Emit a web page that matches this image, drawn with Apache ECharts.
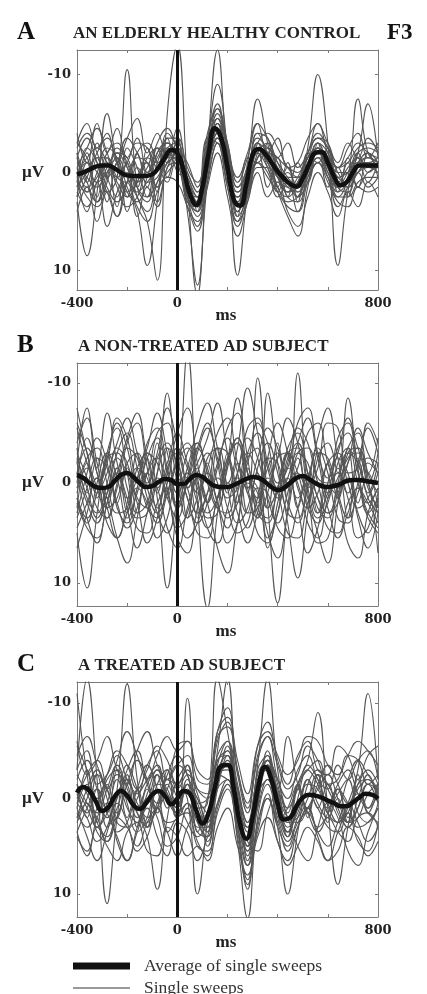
<!DOCTYPE html>
<html>
<head>
<meta charset="utf-8">
<script src="https://cdn.jsdelivr.net/npm/echarts@6/dist/echarts.min.js"></script>
<style>
html,body{margin:0;padding:0;background:#fff;}
#chart{width:427px;height:994px;}
</style>
</head>
<body>
<div id="chart"></div>
<script>
// ---- time bases (ms) ----
const sweepTimes = [-400,-360,-320,-280,-240,-200,-160,-120,-80,-40,0,40,80,120,160,200,240,280,320,360,400,440,480,520,560,600,640,680,720,760,800];
const avgTimes = [-400,-375,-350,-325,-300,-275,-250,-225,-200,-175,-150,-125,-100,-75,-50,-25,0,25,50,75,100,125,150,175,200,225,250,275,300,325,350,375,400,425,450,475,500,525,550,575,600,625,650,675,700,725,750,775,800];

// ---- tick labels ----
const xTickLabels = [-400, 0, 800];
const yTickLabels = [-10, 0, 10];

// ---- panel texts ----
const panelLetters = ['A', 'B', 'C'];
const panelTitles = ['AN ELDERLY HEALTHY CONTROL', 'A NON-TREATED AD SUBJECT', 'A TREATED AD SUBJECT'];
const legendNames = ['Average of single sweeps', 'Single sweeps'];

// ---- averages (µV) ----
const avgA = [0.2,0.0,-0.3,-0.6,-0.7,-0.7,-0.4,0.0,0.3,0.35,0.35,0.35,0.2,-0.5,-1.5,-2.3,-2.0,-0.2,2.2,3.3,1.5,-2.0,-4.5,-3.5,-0.5,2.8,3.4,1.2,-1.8,-2.4,-1.9,-1.0,-0.1,0.6,1.2,1.45,0.6,-0.8,-2.0,-2.1,-1.0,0.4,1.3,1.0,0.0,-0.7,-0.7,-0.7,-0.7];
const avgB = [-0.8,-0.5,0.0,0.4,0.5,0.4,-0.2,-0.8,-1.0,-0.6,0.0,0.4,0.3,-0.1,-0.4,-0.3,0.1,0.1,-0.4,-0.8,-0.6,-0.1,0.3,0.4,0.4,0.2,-0.1,-0.4,-0.6,-0.5,-0.1,0.4,0.7,0.5,0.0,-0.5,-0.7,-0.4,0.0,0.3,0.4,0.3,0.1,-0.2,-0.3,-0.3,-0.2,-0.1,0.0];
const avgC = [-0.6,-1.2,-0.8,0.3,1.3,0.9,-0.2,-0.8,-0.3,0.7,1.1,0.5,-0.4,-0.8,-0.3,0.6,0.0,-0.8,-0.5,1.2,2.6,1.5,-1.2,-3.4,-3.5,-1.0,2.6,4.2,2.0,-1.5,-3.3,-2.0,0.5,2.2,2.0,0.8,-0.1,-0.4,-0.3,-0.1,0.2,0.5,0.8,0.8,0.4,-0.1,-0.5,-0.4,0.0];

// ---- single sweeps (µV) ----
const sweepsA = [
[1.0,-2.5,-1.0,2.0,0.5,-10.5,1.5,3.0,-1.0,-2.5,-1.5,2.5,4.0,-1.5,-5.0,-1.0,4.0,1.0,-3.0,-2.0,0.5,2.0,1.0,-1.0,-3.0,-0.5,2.0,1.0,-1.0,-2.0,-1.0],
[-2.0,1.0,3.0,0.5,-2.5,-1.0,2.5,5.0,11.0,-6.0,-13.0,1.0,12.5,1.0,-4.0,0.0,2.5,1.5,-1.5,-2.5,0.0,1.5,2.0,0.0,-2.0,-1.5,0.5,1.0,0.0,-0.5,0.0],
[2.5,0.5,-2.0,-3.5,-1.0,2.0,3.0,0.5,-2.0,-3.0,-1.0,2.5,4.5,0.0,-5.5,-2.0,4.5,2.5,-2.0,-3.0,0.0,2.5,3.0,0.0,-3.0,-2.0,1.5,2.0,-0.5,-1.5,-0.5],
[-1.5,-3.5,-1.0,1.5,3.0,1.0,-2.0,-3.0,-1.0,1.0,-1.5,0.5,2.5,-2.5,-6.5,-3.0,1.5,0.0,-4.0,-3.5,-1.0,0.5,0.5,-2.0,-4.0,-2.5,0.0,0.0,-2.0,-2.5,-2.0],
[0.5,2.5,3.5,1.0,-2.0,-1.5,1.5,2.5,1.0,-1.0,-3.0,2.5,5.5,1.0,-3.0,1.5,5.0,3.0,-0.5,-0.5,1.5,3.0,2.5,0.5,-1.0,0.5,2.5,2.5,1.0,0.5,0.5],
[3.0,8.5,2.0,-6.0,-1.0,2.0,1.0,-1.5,-2.5,-1.0,-2.5,1.0,3.0,-2.0,-5.0,0.5,4.0,0.0,-3.0,-1.0,1.0,0.0,1.5,-1.0,-2.5,0.0,1.0,-0.5,-1.5,0.0,-1.0],
[-1.0,0.5,1.5,-0.5,-2.0,-0.5,1.0,-0.5,-2.5,-2.0,-1.0,3.0,4.0,-3.0,-9.0,-2.0,10.5,2.0,-4.0,-2.0,0.5,1.5,1.0,-1.5,-2.5,-1.5,0.5,0.0,-1.0,-1.0,-1.5],
[0.0,-1.5,-2.5,-1.0,1.0,2.5,1.0,-1.5,-1.0,-2.5,-3.0,1.5,3.5,-0.5,-3.5,0.0,2.5,0.5,-2.5,-1.0,0.5,1.0,2.0,-2.5,-10.0,-3.0,9.5,2.0,-2.0,-0.5,-0.5],
[1.5,0.0,-1.5,-1.5,0.5,1.0,-0.5,1.0,0.5,-1.5,-2.5,2.0,3.5,-2.0,-5.0,-1.5,3.0,-1.0,-7.5,-3.0,1.5,2.5,1.0,-1.5,-2.0,0.0,2.5,0.5,-7.5,-2.0,-1.0],
[-0.5,1.5,0.5,-2.0,-3.0,-0.5,2.0,1.0,-0.5,-2.0,-2.5,4.0,11.5,-2.0,-12.5,-1.0,5.0,2.0,-1.5,-2.5,-0.5,1.0,2.5,1.0,-1.5,-1.5,0.0,1.5,0.0,-1.0,-0.5],
[-2.5,-4.0,-2.0,0.5,-1.0,-3.5,-2.0,0.0,-1.5,-3.0,-2.0,0.0,2.0,-2.5,-6.0,-2.5,2.0,0.5,-3.0,-4.0,-2.5,-0.5,0.5,-1.5,-3.5,-3.0,-0.5,-1.0,-2.5,-3.0,-2.5],
[2.0,3.5,1.0,-1.0,1.5,3.5,2.5,0.0,1.5,0.0,-1.0,3.0,3.5,-0.5,-3.5,0.5,3.5,2.0,-1.0,0.5,2.0,3.5,4.0,1.0,-1.0,1.0,3.0,3.5,1.5,2.0,1.5],
[0.5,-1.0,0.0,2.0,4.5,1.0,-1.5,-1.0,1.5,-1.5,-1.5,1.0,2.5,-1.5,-4.0,-1.0,2.5,1.5,-2.0,-0.5,2.0,4.5,6.5,1.5,-2.0,-1.0,1.5,1.0,-1.0,-1.5,-1.0],
[-3.0,-1.5,1.0,0.0,-1.5,0.5,2.5,4.0,1.0,-1.0,-1.5,2.0,3.0,-1.0,-4.5,-0.5,3.5,1.0,-1.5,-2.0,-1.0,0.5,1.5,-0.5,-2.0,-0.5,1.5,0.5,-2.0,-7.0,-1.5],
[1.0,2.0,0.0,-2.5,-1.5,1.5,4.0,9.5,3.0,-4.0,-2.5,1.5,3.5,-1.0,-4.5,-1.0,3.0,1.5,-2.5,-1.5,0.5,2.0,1.5,-0.5,-2.5,-1.5,1.0,1.5,0.0,-1.0,-0.5],
[-0.5,-2.5,-4.5,-2.0,0.5,-1.0,-3.0,-2.5,-0.5,-3.5,-3.5,0.0,2.0,-3.0,-5.5,-2.5,1.5,-0.5,-3.5,-2.5,-1.5,-0.5,0.0,-2.0,-3.5,-2.5,-0.5,-1.5,-3.0,-2.0,-1.5],
[-4.0,-1.0,-5.0,-2.0,-4.5,-1.5,-3.5,0.0,-3.0,-4.5,-2.5,-1.0,1.5,-4.0,-6.5,-3.0,1.0,-1.5,-5.0,-2.0,-3.5,-0.5,-1.0,-3.5,-5.0,-2.0,-0.5,-2.5,-4.0,-1.5,-3.0],
[4.0,1.5,5.0,2.0,4.5,1.0,3.5,5.0,2.0,0.5,1.0,3.5,6.0,1.5,-2.0,2.5,6.5,3.0,0.0,2.5,1.0,4.0,5.5,2.5,0.0,2.0,4.5,2.0,3.5,1.0,2.5],
[-2.0,2.0,-1.5,3.0,-1.0,2.5,-2.0,1.5,-2.5,0.5,-3.5,2.0,2.5,-2.0,-4.0,1.0,2.0,-0.5,-2.0,1.5,-1.5,2.5,-1.0,1.0,-3.0,1.5,-0.5,2.5,-1.5,1.0,-1.0],
[1.5,-2.0,2.5,-1.5,3.5,-1.0,1.5,-2.5,2.0,-3.5,0.0,0.5,4.0,-3.5,-3.0,-2.0,4.5,-1.5,-1.0,-3.0,1.5,-0.5,3.0,-2.0,-1.0,-2.5,2.0,-1.0,1.5,-2.0,0.5],
[0.0,4.0,1.0,5.5,2.0,0.0,4.5,1.5,3.5,-0.5,-1.0,3.5,5.0,0.5,-3.0,1.5,5.5,2.5,-1.0,0.0,2.5,1.0,4.0,0.5,-1.5,0.5,3.5,1.5,0.0,1.5,0.5],
[-3.0,-5.0,-2.5,-4.0,-1.0,-3.5,-5.5,-2.0,-4.0,-1.5,-4.5,-0.5,1.0,-3.5,-7.0,-2.5,0.5,-2.0,-5.0,-3.5,-1.5,-3.0,-0.5,-2.0,-5.0,-3.0,-1.0,-3.0,-1.5,-3.5,-2.0],
[2.5,-1.0,3.0,0.0,-1.5,4.0,0.5,-1.0,3.0,-0.5,-2.0,2.5,3.5,-1.0,-4.5,0.0,4.0,1.5,-3.0,-0.5,2.0,-1.0,2.5,0.0,-2.5,0.5,1.5,-1.5,1.5,0.0,-0.5],
[-1.5,1.0,-3.0,0.5,2.5,-2.5,-0.5,2.5,-2.0,-3.0,-1.5,1.5,3.0,-2.0,-5.0,-1.0,3.5,0.0,-2.5,-2.0,0.0,2.0,0.5,-1.5,-2.5,-0.5,1.5,0.0,-1.5,-0.5,-1.0]
];
const sweepsB = [
[3.0,-1.0,-4.5,-2.0,2.5,4.0,0.5,-3.0,-2.0,1.5,3.5,-0.5,-4.0,-1.0,2.5,3.0,-1.0,-4.5,-2.5,1.5,4.0,1.0,-3.0,-3.5,0.0,3.0,2.0,-2.0,-3.5,-0.5,7.0],
[-2.0,1.5,3.0,0.0,-3.5,-2.0,1.5,2.5,-1.0,-9.0,-1.0,-13.0,2.0,12.5,3.0,-2.0,-4.0,0.5,3.5,1.0,-2.5,-3.0,0.5,2.5,1.0,-2.0,-3.0,0.0,2.5,1.5,-1.0],
[5.0,10.5,3.0,-3.0,-5.5,-1.0,3.0,2.0,-2.5,-4.0,0.0,3.5,1.5,-2.5,-3.5,0.5,4.0,2.5,-1.5,-4.0,-1.0,3.0,3.5,0.0,-3.0,-2.5,1.0,3.5,1.0,-2.0,-1.0],
[-1.0,-3.5,-1.0,2.5,1.5,-2.0,-3.0,0.5,3.0,1.0,-2.0,-3.5,0.0,3.0,1.5,-2.5,-4.0,1.0,-10.5,2.0,12.0,2.5,-3.0,-2.0,1.5,3.0,0.5,-2.5,-3.0,0.5,2.5],
[1.5,3.5,1.0,-2.5,-3.0,0.5,3.5,3.0,-1.0,-3.5,-2.0,1.5,4.0,2.0,-2.0,-4.5,-1.0,3.0,2.5,-1.5,-3.0,2.0,-11.0,1.0,5.0,8.0,2.0,-3.0,-3.5,0.0,3.0],
[-3.0,-0.5,2.5,3.5,0.0,-3.5,-2.5,1.5,4.0,1.0,-2.5,-4.0,-0.5,3.5,3.0,-1.5,-4.5,-1.0,2.0,-9.0,-2.0,4.0,9.5,3.0,-2.5,-4.0,-1.0,-8.5,-1.5,3.0,1.5],
[0.5,-2.5,-3.5,0.0,3.0,2.5,-1.5,-3.0,1.5,10.5,2.0,-3.0,-4.0,0.0,2.5,-2.0,-8.5,-2.5,2.5,3.5,0.5,-3.0,-3.5,0.5,3.5,2.0,-2.0,-3.5,0.0,3.0,4.5],
[-4.0,-6.5,-2.0,1.5,-1.0,-4.5,-7.0,-2.5,0.5,-2.0,-5.0,-2.0,1.0,-1.5,-5.0,-6.5,-2.0,0.5,-2.5,-5.5,-3.5,0.0,-1.5,-5.0,-6.0,-2.0,0.5,-2.0,-5.5,-3.0,-1.0],
[2.0,4.5,5.5,2.0,-1.0,1.5,4.5,5.0,2.0,0.5,3.0,5.5,4.0,1.0,-0.5,2.5,5.0,4.0,0.5,1.0,4.5,5.5,2.5,-0.5,1.5,4.5,5.0,2.0,0.5,3.5,5.0],
[-5.5,-2.0,0.5,-2.5,-6.0,-3.5,0.0,-1.0,-5.0,-6.0,-1.5,0.5,-3.0,-5.5,-2.5,0.5,-1.0,-5.5,-6.5,-2.0,0.5,-2.5,-5.5,-4.0,-0.5,0.0,-4.5,-6.0,-2.0,0.0,-3.0],
[1.0,-1.5,0.5,4.0,5.5,2.0,-1.5,-0.5,3.0,5.0,2.0,-1.0,0.5,4.5,6.0,2.5,-0.5,1.0,5.0,6.0,2.0,-1.5,0.0,4.0,5.5,1.5,-1.0,1.5,5.5,4.5,1.0],
[-2.0,-7.5,-1.5,-7.0,-2.0,1.5,-0.5,-4.0,-5.5,-1.5,2.0,0.0,-3.5,-6.0,-2.0,1.5,0.5,-3.0,-5.0,-1.5,1.5,-0.5,-4.0,-6.5,-2.5,1.0,-0.5,-3.5,-5.0,-1.0,1.0],
[3.5,0.5,-2.5,-1.5,2.0,4.5,2.5,-1.0,-2.5,0.5,4.5,3.0,-1.0,-3.0,0.0,3.5,2.0,-2.5,-3.5,6.5,3.0,-2.0,-4.0,-1.0,2.5,3.5,0.0,-3.0,-2.0,1.5,3.0],
[-1.0,2.0,4.0,1.0,-2.5,-1.0,2.0,6.0,3.5,-1.5,-3.0,0.5,3.0,1.0,-3.5,-3.0,1.0,4.5,1.5,-2.5,-2.0,2.0,4.0,0.5,-3.5,-1.0,3.5,4.0,0.0,-2.5,-2.0],
[-6.0,-3.0,1.0,-1.0,-4.0,-6.5,-3.0,0.0,-3.0,-7.5,-4.0,-0.5,-2.0,-4.5,-8.0,-3.0,0.0,-2.0,-6.0,-4.0,0.0,-1.5,-6.0,-7.5,-3.0,-0.5,-3.0,-6.5,-3.5,-1.0,-4.5],
[4.5,2.0,-0.5,2.5,5.5,3.0,0.5,2.0,5.5,3.5,-0.5,1.5,5.0,5.5,1.5,0.0,3.0,6.0,3.0,-0.5,1.0,5.0,5.5,2.0,0.0,2.5,5.5,3.0,0.5,2.0,4.0],
[-3.5,1.0,-2.5,2.5,-1.5,3.0,-3.0,0.5,-4.0,1.5,-2.0,3.5,-1.5,2.0,-3.5,1.0,-2.0,3.0,-1.0,2.5,-4.0,0.0,-2.5,2.0,-3.0,1.5,-1.5,3.5,-2.5,1.0,-2.0],
[2.5,-2.0,1.5,-3.0,2.0,-1.5,3.0,-2.5,1.0,-3.5,2.5,-1.0,3.5,-2.0,1.5,-3.0,2.0,-1.5,3.5,-2.5,1.0,-3.0,2.5,-1.0,3.0,-2.0,1.5,-3.5,2.0,-1.0,2.5],
[0.0,-4.5,-1.0,3.5,0.5,-4.0,-6.0,-1.5,2.5,-1.0,-5.0,-7.5,-2.0,2.0,-1.5,-5.5,-7.0,-1.0,1.5,-2.5,-6.0,-3.0,1.5,-0.5,-4.5,-7.5,-2.5,1.0,-2.0,-5.5,-3.0],
[-1.0,3.5,6.0,2.0,-1.5,2.5,6.5,3.0,-0.5,1.0,5.5,7.0,2.5,-1.0,2.0,6.0,4.0,-0.5,0.5,5.0,7.5,3.0,-1.0,1.5,6.0,5.5,1.0,-0.5,3.5,6.5,3.0],
[-7.5,-3.0,0.5,-2.0,-6.5,-4.5,-0.5,-3.5,-7.0,-3.0,1.0,-1.5,-5.5,-8.0,-3.5,0.0,-3.5,-9.5,-5.0,0.0,-2.5,-6.5,-4.0,0.5,-1.5,-6.0,-5.5,-1.0,-1.5,-6.0,-4.0],
[6.5,3.0,-0.5,1.5,5.5,8.0,3.5,-1.0,0.5,4.5,6.5,2.5,-0.5,2.0,6.5,9.0,4.0,0.0,1.0,5.5,3.0,-0.5,2.5,7.0,4.5,0.5,1.5,6.0,7.5,3.0,0.5],
[1.5,4.0,0.0,-3.0,-0.5,3.5,1.0,-2.5,-4.5,-1.0,2.5,0.0,-3.5,-1.5,2.0,4.5,1.0,-3.0,-1.0,2.5,0.5,-3.5,-5.0,-1.0,3.0,1.0,-2.5,-1.0,3.0,5.0,1.5],
[-2.5,0.5,3.5,1.0,-3.0,-5.0,-1.5,2.5,3.5,0.0,-3.5,-1.5,2.0,4.5,1.5,-2.5,-4.5,-1.0,3.0,4.0,0.5,-3.0,-1.0,2.5,4.0,0.0,-3.5,-5.0,-1.0,2.0,0.5]
];
const sweepsC = [
[-3.0,-12.5,-2.0,11.0,2.0,-3.5,-1.0,2.5,1.0,-2.0,-1.5,-3.5,2.0,3.5,-3.5,-6.0,1.0,6.0,-1.5,-4.5,0.0,3.5,1.0,-1.5,-1.0,1.5,2.5,1.5,-1.0,-2.0,-0.5],
[-11.0,-2.5,2.5,4.0,-1.0,-12.0,-2.0,3.0,1.0,-1.5,0.5,-1.0,3.0,3.0,-2.5,-5.0,0.5,5.5,0.5,-3.5,-1.0,2.5,2.0,0.0,-2.5,-1.5,1.0,3.0,1.0,-1.5,-1.0],
[2.5,0.0,-2.5,-1.0,2.5,3.0,0.0,-2.0,-3.5,0.0,1.0,-10.5,2.0,4.0,-2.0,-3.5,2.0,5.0,-2.0,-3.0,1.5,4.0,0.0,-3.0,-1.5,1.0,-0.5,-2.0,1.5,2.5,0.5],
[0.5,2.0,4.5,3.0,-0.5,-2.0,1.5,4.0,9.5,2.0,-1.5,0.0,10.0,2.5,-4.0,-4.5,1.5,3.0,-2.5,-4.0,-0.5,2.0,2.5,1.0,-1.0,-2.5,0.0,2.5,2.0,-0.5,-1.5],
[-2.0,-4.0,-1.0,2.0,0.0,-3.0,-5.0,-1.5,0.5,-2.5,-4.5,-2.5,1.0,0.5,-12.5,-7.0,-1.0,2.5,-3.5,-12.5,-3.0,1.5,-1.5,-3.0,-4.0,-1.0,0.5,-2.0,-4.0,-2.5,-1.0],
[1.5,3.0,1.0,-2.0,-3.0,0.5,3.5,2.0,-1.5,-1.0,2.0,0.5,3.5,4.0,-1.0,-2.0,4.5,12.5,2.0,-1.5,2.0,4.5,2.0,-0.5,1.0,3.0,3.5,1.0,-0.5,1.5,2.5],
[-1.0,1.0,3.0,0.5,-2.5,-1.5,2.0,0.5,-2.5,-0.5,1.0,-2.0,0.0,1.5,-5.0,-12.5,2.0,9.5,0.0,-4.0,0.5,3.5,-1.5,-4.0,-9.0,1.0,9.0,3.0,-1.5,-2.0,0.0],
[2.0,-1.0,-3.0,0.0,3.5,2.5,-1.0,-3.5,-1.0,2.5,2.0,-1.5,0.0,2.5,-1.5,-4.0,-1.0,3.0,-0.5,-2.0,3.0,10.0,3.5,-1.5,-3.0,0.5,2.5,0.5,-3.0,-11.0,-2.0],
[-4.5,-6.5,-3.5,-1.0,-4.0,-7.0,-4.5,-2.0,-4.5,-6.5,-5.0,-6.0,-3.0,-2.0,-7.0,-8.5,-4.0,-0.5,-5.5,-7.0,-4.5,-2.5,-4.0,-6.5,-6.0,-3.5,-2.5,-4.5,-6.0,-5.0,-3.5],
[4.0,5.5,3.0,5.0,6.5,3.5,2.5,5.5,6.0,3.0,4.0,6.0,5.0,6.5,3.0,1.0,5.0,8.0,4.0,2.0,4.5,7.0,5.0,3.0,4.5,6.5,5.5,3.0,4.0,6.0,4.5],
[0.0,-2.5,-4.0,-1.0,1.5,-1.5,-4.0,-2.0,1.0,-1.0,-3.5,-2.5,0.5,0.0,-4.5,-6.0,-1.5,2.5,-2.0,-3.5,-1.0,-6.5,-1.5,1.0,-1.5,-3.5,-1.5,0.5,-1.5,-3.0,-1.5],
[-1.5,0.5,2.0,4.5,2.0,-0.5,1.5,3.0,0.5,-2.0,0.0,2.5,4.0,2.0,-2.5,-3.0,2.5,5.0,1.0,-2.0,1.0,2.0,-1.0,1.5,3.5,1.5,-1.0,0.5,3.0,2.5,1.0],
[3.5,1.0,-1.0,1.5,4.0,6.5,3.0,0.0,2.0,5.0,4.0,1.0,4.5,6.0,1.0,-1.5,3.0,7.0,3.5,0.0,2.5,5.5,3.0,1.0,3.5,5.0,2.5,0.5,2.5,4.5,3.0],
[-5.5,-3.0,0.0,-2.5,-5.0,-3.5,-1.0,-3.0,-5.5,-4.0,-1.5,-3.0,-1.0,-0.5,-6.5,-7.5,-3.0,1.0,-4.0,-6.5,-3.5,-1.0,-2.5,-5.5,-4.0,-1.5,-2.0,-4.5,-4.0,-1.5,-2.5],
[1.0,4.0,6.5,3.5,0.5,2.5,5.5,4.0,1.0,3.5,6.0,3.0,1.5,5.0,0.5,-2.0,2.0,4.5,5.5,1.5,-0.5,2.0,5.0,6.5,3.0,0.5,2.0,5.5,7.0,3.5,1.0],
[-2.5,-0.5,1.5,-1.0,-3.5,-1.0,1.0,-1.5,-3.0,-0.5,1.5,-1.5,2.0,1.5,-3.0,-4.5,0.0,3.5,-1.0,-4.0,-2.0,1.0,-1.0,-3.5,-2.0,0.5,-1.5,-3.0,-0.5,1.0,-0.5],
[-3.0,-5.0,-1.5,-2.5,-4.5,-2.0,-0.5,-3.5,-5.0,-2.0,-3.5,-4.5,-1.0,0.0,-6.0,-8.0,-2.5,1.5,-4.5,-6.5,-2.0,0.0,-3.0,-4.5,-2.0,-1.0,-3.5,-2.0,-4.0,-5.0,-2.0],
[2.0,0.5,3.5,4.5,2.0,3.0,5.0,2.5,1.0,3.5,2.0,1.5,5.0,5.5,1.5,-1.0,3.5,8.5,2.5,0.0,3.0,5.0,2.5,1.5,3.0,2.0,3.5,4.5,2.0,1.5,3.0],
[-1.5,2.0,-2.5,1.5,-3.0,2.0,-1.0,3.0,-2.5,1.0,-2.0,-3.5,3.5,0.0,-4.0,-5.0,3.0,5.5,-3.0,-4.5,2.5,1.0,-1.5,2.0,-2.5,1.5,-1.0,2.5,-2.0,1.0,-1.5],
[1.0,-3.0,2.5,-1.5,2.0,-2.5,3.0,-1.0,1.5,-3.0,2.0,-1.5,0.5,3.5,-2.5,-2.0,-1.0,6.5,1.0,-5.0,-0.5,4.0,-1.5,1.5,-2.5,2.5,-1.0,2.0,-2.5,1.5,-1.0],
[3.5,6.0,2.0,0.5,4.5,6.5,3.5,1.0,4.0,6.0,2.5,3.5,6.5,4.0,0.5,-1.5,4.0,9.0,3.0,-0.5,4.5,6.5,3.0,1.0,4.0,6.5,3.5,1.5,4.5,5.5,2.5],
[-6.0,-2.5,-4.0,-6.5,-3.0,-1.5,-5.0,-7.0,-3.5,-2.0,-5.5,-6.0,-2.0,-1.5,-7.0,-9.5,-3.0,0.5,-5.5,-8.0,-4.0,-1.5,-4.5,-6.0,-3.0,-2.5,-5.5,-4.5,-2.0,-4.5,-5.5],
[0.5,-1.5,3.0,1.5,-2.0,1.0,2.5,-0.5,-3.0,0.0,1.5,0.5,2.5,4.5,-1.0,-4.5,1.5,7.0,0.5,-3.5,1.0,3.5,1.0,-2.0,0.5,2.0,0.0,2.5,1.0,-1.5,0.5],
[-0.5,1.5,-1.0,3.0,1.0,-2.0,0.5,2.0,-1.5,-3.0,-1.0,-2.5,-0.5,3.0,-1.5,-5.5,-0.5,5.0,-1.5,-4.0,-1.5,3.0,1.5,-2.0,1.0,-1.5,1.5,3.0,0.0,-2.5,0.5]
];

const panels = [
  {avg: avgA, sweeps: sweepsA},
  {avg: avgB, sweeps: sweepsB},
  {avg: avgC, sweeps: sweepsC}
];

// ---- layout / style (not data) ----
const grids = [
  {left: 77, top: 50, width: 301, height: 240},
  {left: 77, top: 363, width: 301, height: 243},
  {left: 77, top: 682, width: 301, height: 235}
];
const yRanges = [[-12.5, 12], [-12, 12.3], [-12.2, 12.4]];
const titleX = [73, 78, 78];
const boxColor = '#7a7a7a';
const tickFont = {fontFamily: '"DejaVu Serif", serif', fontWeight: 'bold', fontSize: 13, color: '#222'};
const sweepColor = '#555555';
const avgColor = '#111';

const xAxes = [], yAxes = [], series = [], graphics = [];
grids.forEach((g, i) => {
  const axisLine = {show: true, onZero: false, lineStyle: {color: boxColor, width: 1}};
  xAxes.push({
    type: 'value', gridIndex: i, min: -400, max: 800, interval: 200, position: 'bottom',
    axisLine, axisTick: {inside: true, length: 3, lineStyle: {color: boxColor}},
    axisLabel: Object.assign({customValues: xTickLabels, margin: 7}, tickFont),
    splitLine: {show: false}
  });
  xAxes.push({
    type: 'value', gridIndex: i, min: -400, max: 800, interval: 200, position: 'top',
    axisLine, axisTick: {inside: true, length: 3, lineStyle: {color: boxColor}},
    axisLabel: {show: false}, splitLine: {show: false}
  });
  yAxes.push({
    type: 'value', gridIndex: i, inverse: true, min: yRanges[i][0], max: yRanges[i][1], position: 'left',
    axisLine, axisTick: {inside: true, length: 3, customValues: yTickLabels, lineStyle: {color: boxColor}},
    axisLabel: Object.assign({customValues: yTickLabels, margin: 6, formatter: v => String(v)}, tickFont),
    splitLine: {show: false}
  });
  yAxes.push({
    type: 'value', gridIndex: i, inverse: true, min: yRanges[i][0], max: yRanges[i][1], position: 'right',
    axisLine, axisTick: {inside: true, length: 3, customValues: yTickLabels, lineStyle: {color: boxColor}},
    axisLabel: {show: false}, splitLine: {show: false}
  });

  const p = panels[i];
  p.sweeps.forEach(vals => {
    series.push({
      type: 'line', name: legendNames[1], xAxisIndex: 2 * i, yAxisIndex: 2 * i,
      data: sweepTimes.map((t, k) => [t, vals[k]]),
      showSymbol: false, smooth: 0.45, silent: true, z: 2,
      color: sweepColor, lineStyle: {color: sweepColor, width: 1.1}
    });
  });
  series.push({
    type: 'line', name: legendNames[0], xAxisIndex: 2 * i, yAxisIndex: 2 * i,
    data: avgTimes.map((t, k) => [t, p.avg[k]]),
    showSymbol: false, smooth: 0.5, silent: true, z: 5,
    color: avgColor, lineStyle: {color: avgColor, width: 4.5},
    markLine: {
      silent: true, symbol: ['none', 'none'], label: {show: false},
      lineStyle: {color: avgColor, width: 3, type: 'solid'},
      data: [{xAxis: 0}]
    }
  });

  const cy = g.top + g.height;
  const zeroY = g.top + (0 - yRanges[i][0]) / (yRanges[i][1] - yRanges[i][0]) * g.height;
  graphics.push({type: 'text', x: 17, y: g.top - 17, style: {text: panelLetters[i], font: 'bold 25px "Liberation Serif", serif', fill: '#111', align: 'left', verticalAlign: 'middle'}});
  graphics.push({type: 'text', x: titleX[i], y: g.top - 16, style: {text: panelTitles[i], font: 'bold 17px "Liberation Serif", serif', fill: '#222', align: 'left', verticalAlign: 'middle'}});
  graphics.push({type: 'text', x: 22, y: zeroY, style: {text: 'µV', font: 'bold 17px "Liberation Serif", serif', fill: '#222', align: 'left', verticalAlign: 'middle'}});
  graphics.push({type: 'text', x: 226, y: cy + 26, style: {text: 'ms', font: 'bold 17px "Liberation Serif", serif', fill: '#222', align: 'center', verticalAlign: 'middle'}});
});
graphics.push({type: 'text', x: 387, y: 33, style: {text: 'F3', font: 'bold 23px "Liberation Serif", serif', fill: '#111', align: 'left', verticalAlign: 'middle'}});

const legendText = {fontFamily: '"Liberation Serif", serif', fontSize: 17.5, color: '#333', padding: [0, 0, 0, 9]};
const chart = echarts.init(document.getElementById('chart'), null, {renderer: 'canvas'});
chart.setOption({
  animation: false,
  backgroundColor: '#fff',
  grid: grids,
  xAxis: xAxes,
  yAxis: yAxes,
  series,
  graphic: graphics,
  legend: [
    {data: [{name: legendNames[0], itemStyle: {color: avgColor}}], left: 73, top: 957, padding: 0, icon: 'rect', itemWidth: 57, itemHeight: 7, selectedMode: false, textStyle: legendText},
    {data: [{name: legendNames[1], itemStyle: {color: '#777'}}], left: 73, top: 979, padding: 0, icon: 'rect', itemWidth: 57, itemHeight: 1.5, selectedMode: false, textStyle: legendText}
  ]
});
</script>
</body>
</html>
